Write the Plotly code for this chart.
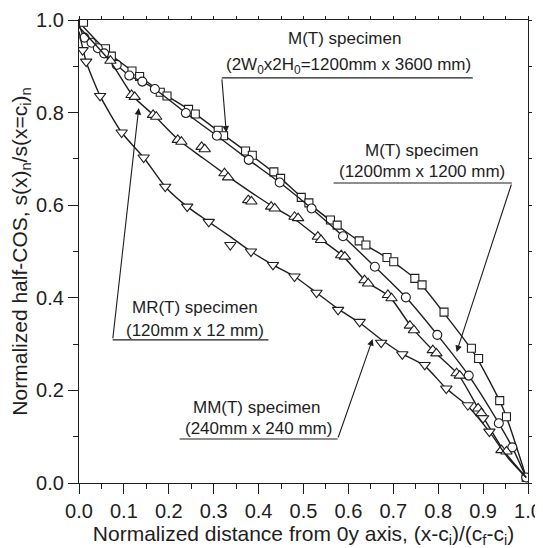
import plotly.graph_objects as go

# ---- data ----
# M(T) specimen 1200 x 3600 (squares)
sq_x = [0.01, 0.059, 0.072, 0.118, 0.135, 0.181, 0.196, 0.244, 0.259, 0.310, 0.322,
        0.371, 0.386, 0.434, 0.449, 0.495, 0.512, 0.560, 0.575, 0.624, 0.639,
        0.686, 0.701, 0.748, 0.764, 0.813, 0.874, 0.890, 0.937, 0.952, 0.996]
sq_y = [0.995, 0.938, 0.922, 0.890, 0.878, 0.844, 0.836, 0.807, 0.797, 0.762, 0.750,
        0.717, 0.708, 0.672, 0.658, 0.617, 0.605, 0.568, 0.557, 0.523, 0.514,
        0.487, 0.478, 0.442, 0.428, 0.369, 0.291, 0.269, 0.178, 0.143, 0.012]
sq_line_x = [0.0, 0.065, 0.127, 0.19, 0.252, 0.316, 0.378, 0.441, 0.503, 0.567, 0.631,
             0.693, 0.756, 0.812, 0.88, 0.945, 0.996]
sq_line_y = [0.995, 0.930, 0.884, 0.840, 0.802, 0.756, 0.712, 0.665, 0.611, 0.562, 0.518,
             0.482, 0.435, 0.368, 0.280, 0.160, 0.012]

# M(T) specimen 1200 x 1200 (circles)
ci_x = [0.012, 0.028, 0.042, 0.056, 0.084, 0.112, 0.141, 0.169, 0.238, 0.307, 0.378,
        0.447, 0.518, 0.588, 0.659, 0.728, 0.798, 0.868, 0.935, 0.965, 0.996]
ci_y = [0.962, 0.951, 0.939, 0.928, 0.903, 0.880, 0.867, 0.851, 0.799, 0.750, 0.698,
        0.649, 0.593, 0.533, 0.467, 0.401, 0.320, 0.232, 0.129, 0.077, 0.012]
ci_line_x = [0.0, 0.012, 0.028, 0.056, 0.084, 0.112, 0.141, 0.169, 0.238, 0.307, 0.378,
             0.447, 0.518, 0.588, 0.659, 0.728, 0.798, 0.868, 0.935, 0.965, 0.996]
ci_line_y = [0.99, 0.962, 0.951, 0.928, 0.903, 0.880, 0.867, 0.851, 0.799, 0.750, 0.698,
             0.649, 0.593, 0.533, 0.467, 0.401, 0.320, 0.232, 0.129, 0.077, 0.012]

# MR(T) specimen 120 x 12 (up triangles)
ut_x = [0.070, 0.117, 0.124, 0.165, 0.172, 0.220, 0.228, 0.273, 0.280, 0.324, 0.332,
        0.377, 0.384, 0.428, 0.436, 0.480, 0.488, 0.532, 0.539, 0.584, 0.592,
        0.636, 0.644, 0.688, 0.696, 0.737, 0.746, 0.788, 0.796, 0.841, 0.848,
        0.889, 0.896, 0.941, 0.952]
ut_y = [0.912, 0.838, 0.834, 0.795, 0.791, 0.741, 0.737, 0.726, 0.721, 0.669, 0.660,
        0.611, 0.608, 0.597, 0.593, 0.575, 0.572, 0.532, 0.525, 0.492, 0.489,
        0.438, 0.431, 0.406, 0.399, 0.340, 0.330, 0.287, 0.280, 0.237, 0.232,
        0.161, 0.151, 0.071, 0.068]
ut_line_x = [0.0, 0.07, 0.12, 0.168, 0.224, 0.276, 0.328, 0.38, 0.432, 0.484, 0.536,
             0.588, 0.64, 0.692, 0.742, 0.792, 0.845, 0.892, 0.946, 0.996]
ut_line_y = [0.985, 0.910, 0.836, 0.793, 0.739, 0.702, 0.665, 0.630, 0.597, 0.567, 0.528,
             0.490, 0.435, 0.402, 0.335, 0.283, 0.234, 0.156, 0.070, 0.012]

# MM(T) specimen 240 x 240 (down triangles)
dt_x = [0.008, 0.016, 0.047, 0.095, 0.144, 0.192, 0.241, 0.289, 0.337, 0.383, 0.432,
        0.480, 0.529, 0.577, 0.625, 0.673, 0.720, 0.770, 0.818, 0.866, 0.900, 0.914]
dt_y = [0.935, 0.910, 0.836, 0.757, 0.703, 0.640, 0.597, 0.564, 0.514, 0.500, 0.471,
        0.446, 0.411, 0.374, 0.348, 0.303, 0.278, 0.255, 0.204, 0.168, 0.140, 0.111]
dt_line_x = [0.0, 0.016, 0.047, 0.095, 0.144, 0.192, 0.241, 0.289, 0.337, 0.383, 0.432,
             0.480, 0.529, 0.577, 0.625, 0.673, 0.720, 0.770, 0.818, 0.866, 0.914, 0.955, 0.996]
dt_line_y = [0.975, 0.910, 0.836, 0.757, 0.703, 0.640, 0.597, 0.564, 0.532, 0.500, 0.471,
             0.446, 0.411, 0.376, 0.346, 0.310, 0.279, 0.253, 0.204, 0.166, 0.111, 0.055, 0.012]

x_ticks = [0.0, 0.1, 0.2, 0.3, 0.4, 0.5, 0.6, 0.7, 0.8, 0.9, 1.0]
y_ticks = [0.0, 0.2, 0.4, 0.6, 0.8, 1.0]

INK = "#1e1e1e"
FONT = "Liberation Sans, Arial, sans-serif"

fig = go.Figure()

def add_series(lx, ly, mx, my, symbol, size):
    fig.add_trace(go.Scatter(x=lx, y=ly, mode="lines",
                             line=dict(color=INK, width=1.4, shape="spline", smoothing=0.6),
                             hoverinfo="skip", showlegend=False))
    fig.add_trace(go.Scatter(x=mx, y=my, mode="markers",
                             marker=dict(symbol=symbol, size=size, color="white",
                                         line=dict(color=INK, width=1.1)),
                             showlegend=False))

add_series(sq_line_x, sq_line_y, sq_x, sq_y, "square", 8)
add_series(ci_line_x, ci_line_y, ci_x, ci_y, "circle", 9)
add_series(ut_line_x, ut_line_y, ut_x, ut_y, "triangle-up", 10)
add_series(dt_line_x, dt_line_y, dt_x, dt_y, "triangle-down", 10)

# invisible trace for mirrored tick axes
fig.add_trace(go.Scatter(x=[0, 1], y=[0, 1], xaxis="x2", yaxis="y2", mode="markers",
                         marker=dict(opacity=0), hoverinfo="skip", showlegend=False))

# annotation texts
labels = [
    (0.592, 0.961, "M(T) specimen"),
    (0.600, 0.901, "(2W<sub>0</sub>x2H<sub>0</sub>=1200mm x 3600 mm)"),
    (0.763, 0.719, "M(T) specimen"),
    (0.763, 0.672, "(1200mm x 1200 mm)"),
    (0.258, 0.378, "MR(T) specimen"),
    (0.258, 0.330, "(120mm x 12 mm)"),
    (0.396, 0.164, "MM(T) specimen"),
    (0.400, 0.117, "(240mm x 240 mm)"),
]
for x, y, t in labels:
    fig.add_annotation(x=x, y=y, text=t, showarrow=False,
                       font=dict(family=FONT, size=17, color=INK))

# underlines
underlines = [(0.318, 0.877, 0.875), (0.567, 0.964, 0.648),
              (0.075, 0.422, 0.309), (0.224, 0.576, 0.095)]
for x0, x1, y in underlines:
    fig.add_shape(type="line", x0=x0, x1=x1, y0=y, y1=y, xref="x", yref="y",
                  line=dict(color=INK, width=1.2))

# arrows (tail -> head)
arrows = [((0.318, 0.875), (0.328, 0.757)),
          ((0.964, 0.648), (0.841, 0.283)),
          ((0.075, 0.309), (0.133, 0.810)),
          ((0.576, 0.095), (0.654, 0.311))]
for (tx, ty), (hx, hy) in arrows:
    fig.add_annotation(x=hx, y=hy, ax=tx, ay=ty, axref="x", ayref="y",
                       xref="x", yref="y", text="", showarrow=True,
                       arrowhead=2, arrowsize=1.2, arrowwidth=1.1, arrowcolor=INK)

axis_common = dict(range=[0, 1], showgrid=False, zeroline=False, automargin=False,
                   showline=True, linecolor=INK, linewidth=1.2,
                   ticks="outside", ticklen=10, tickwidth=1.2, tickcolor=INK,
                   tickfont=dict(family=FONT, size=20, color=INK),
                   tickformat=".1f", ticklabeloverflow="allow")

fig.update_layout(
    width=535, height=540,
    margin=dict(l=71, r=15, t=12, b=65),
    plot_bgcolor="white", paper_bgcolor="white",
    font=dict(family=FONT, color=INK),
    xaxis=dict(**axis_common, tickvals=x_ticks, mirror=True,
               minor=dict(dtick=0.05, ticks="outside", ticklen=5, tickcolor=INK),
               title=dict(text="Normalized distance from 0y axis, (x-c<sub>i</sub>)/(c<sub>f</sub>-c<sub>i</sub>)",
                          font=dict(family=FONT, size=21, color=INK), standoff=8)),
    yaxis=dict(**axis_common, tickvals=y_ticks, mirror=True,
               minor=dict(dtick=0.1, ticks="outside", ticklen=5, tickcolor=INK),
               title=dict(text="Normalized half-COS, s(x)<sub>n</sub>/s(x=c<sub>i</sub>)<sub>n</sub>",
                          font=dict(family=FONT, size=21, color=INK), standoff=3)),
    xaxis2=dict(range=[0, 1], overlaying="x", side="top", showgrid=False, zeroline=False,
                automargin=False, showline=False, ticks="outside", ticklen=3, tickcolor=INK,
                showticklabels=False, dtick=0.05),
    yaxis2=dict(range=[0, 1], overlaying="y", side="right", showgrid=False, zeroline=False,
                automargin=False, showline=False, ticks="outside", ticklen=3, tickcolor=INK,
                showticklabels=False, dtick=0.1),
)

fig.write_html("out.html")
